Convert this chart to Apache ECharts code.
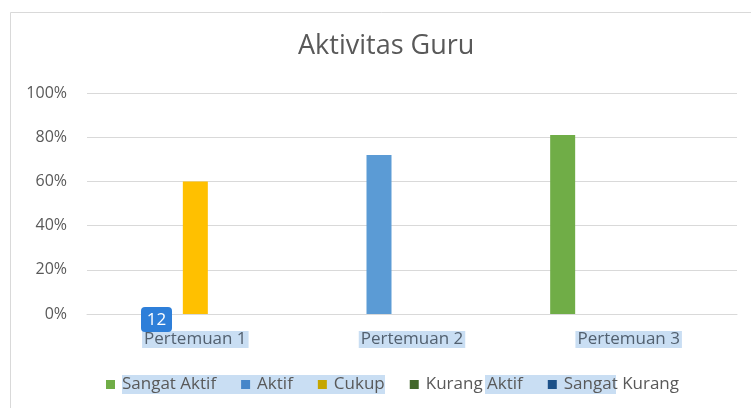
<!DOCTYPE html>
<html>
<head>
<meta charset="utf-8">
<script src="https://cdn.jsdelivr.net/npm/echarts@6/dist/echarts.min.js"></script>
<style>
html,body{margin:0;padding:0;background:#fff;}
#chart{width:751px;height:408px;}
</style>
</head>
<body>
<div id="chart"></div>
<script>
var titleText = 'Aktivitas Guru';
var categories = ['Pertemuan 1', 'Pertemuan 2', 'Pertemuan 3'];
var seriesNames = ['Sangat Aktif', 'Aktif', 'Cukup', 'Kurang Aktif', 'Sangat Kurang'];
var sangatAktif = [0, 0, 0.81];
var aktif = [0, 0.72, 0];
var cukup = [0.60, 0, 0];
var kurangAktif = [0, 0, 0];
var sangatKurang = [0, 0, 0];
var yTicks = [0, 0.2, 0.4, 0.6, 0.8, 1.0];

var colors = ['#70ad47', '#5b9bd5', '#ffc000', '#43682b', '#255e91'];
var legendMarkerColors = ['#70ad47', '#4686c9', '#c5a600', '#43682b', '#1c5189'];
var seriesValues = [sangatAktif, aktif, cukup, kurangAktif, sangatKurang];
var font = '"Open Sans", "Noto Sans", sans-serif';
var hl = '#c9def3';

var chart = echarts.init(document.getElementById('chart'), null, {renderer: 'canvas'});
var option = {
  backgroundColor: '#ffffff',
  animation: false,
  title: {
    text: titleText,
    left: 298,
    top: 33,
    padding: 0,
    textStyle: {fontFamily: font, fontSize: 27, fontWeight: 'normal', color: '#595959'}
  },
  legend: {
    data: seriesNames.map(function (n, i) {
      return {name: n, itemStyle: {color: legendMarkerColors[i]}};
    }),
    left: 106,
    top: 376,
    padding: 0,
    icon: 'rect',
    itemWidth: 9,
    itemHeight: 9,
    itemGap: 25,
    textStyle: {fontFamily: font, fontSize: 17, color: '#595959', padding: [0, 0, 0, 2]}
  },
  grid: {left: 87, right: 14, top: 93, bottom: 94, containLabel: false},
  xAxis: {
    type: 'category',
    data: categories,
    axisLine: {lineStyle: {color: '#d9d9d9', width: 1}},
    axisTick: {show: false},
    axisLabel: {
      fontFamily: font, fontSize: 17, color: '#52606f', margin: 17,
      backgroundColor: hl, padding: [0, 2, 0, 2]
    }
  },
  yAxis: {
    type: 'value',
    min: 0,
    max: 1,
    interval: 0.2,
    axisLine: {show: false},
    axisTick: {show: false},
    splitLine: {lineStyle: {color: '#d9d9d9', width: 1}},
    axisLabel: {
      fontFamily: font, fontSize: 16, color: '#595959', margin: 20,
      formatter: function (v) { return Math.round(v * 100) + '%'; }
    }
  },
  series: seriesNames.map(function (n, i) {
    return {
      name: n,
      type: 'bar',
      data: seriesValues[i],
      barWidth: 25,
      barGap: '32%',
      itemStyle: {color: colors[i]}
    };
  }),
  graphic: [
    {type: 'rect', z: -10, shape: {x: 10.5, y: 12.5, width: 800, height: 500},
     style: {fill: 'none', stroke: '#d9d9d9', lineWidth: 1}},
    {type: 'rect', z: -5, shape: {x: 122, y: 375, width: 263, height: 19}, style: {fill: hl}},
    {type: 'rect', z: -5, shape: {x: 485, y: 375, width: 131, height: 19}, style: {fill: hl}},
    {type: 'rect', z: 100, shape: {x: 141, y: 307, width: 31, height: 25, r: 4}, style: {fill: '#2e7fd9'}},
    {type: 'text', z: 101, x: 156.5, y: 320,
     style: {text: '12', fill: '#ffffff', font: '17px ' + font, textAlign: 'center', textVerticalAlign: 'middle'}}
  ]
};
chart.setOption(option);
</script>
</body>
</html>
